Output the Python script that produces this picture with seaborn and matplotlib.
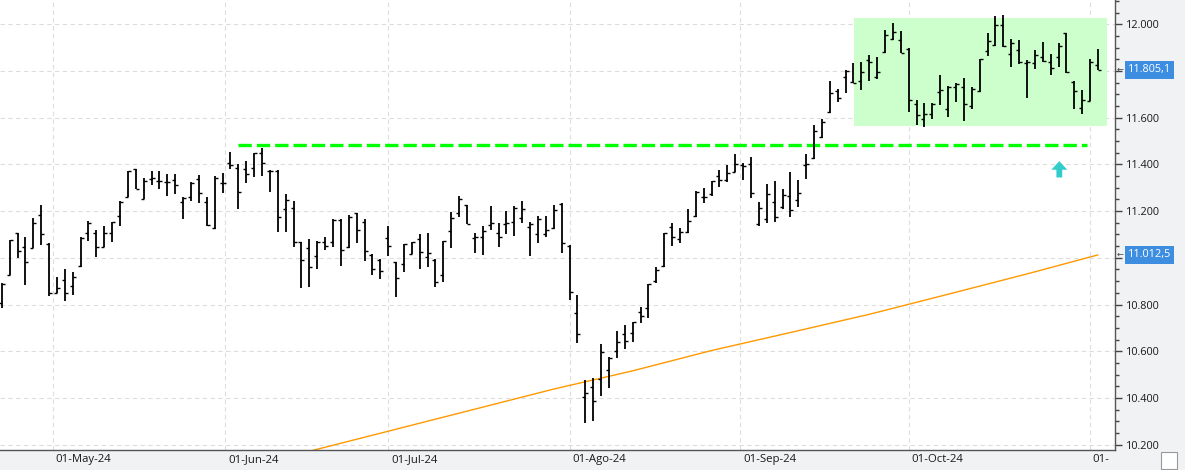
import numpy as np
import pandas as pd
import matplotlib
matplotlib.use('Agg')
import matplotlib.pyplot as plt
import matplotlib.transforms as mtrans
from matplotlib.patches import Rectangle
import seaborn as sns

# trading sessions shown (market closed on 1 May)
dates = pd.bdate_range('2024-04-22', '2024-11-04')
dates = dates[dates != pd.Timestamp('2024-05-01')]

opens = [10805, 10926, 11107, 11045, 11043, 11183, 11060, 10851, 10905, 10879,
         10966, 11105, 11105, 11045, 11105, 11178, 11259, 11379, 11252, 11336,
         11330, 11326, 11333, 11239, 11259, 11336, 11239, 11126, 11319, 11407,
         11383, 11379, 11383, 11448, 11373, 11373, 11208, 11212, 11066, 11041,
         11006, 11066, 11066, 11162, 11048, 11191, 11152, 11012, 10991, 11083,
         10981, 10972, 11016, 11080, 11003, 10991, 10926, 11113, 11191, 11226,
         11083, 11090, 11140, 11105, 11143, 11152, 11169, 11133, 11102, 11102,
         11129, 11229, 11052, 10762, 10405, 10445, 10480, 10519, 10601, 10674,
         10679, 10769, 10784, 10902, 10966, 11133, 11079, 11109, 11180, 11259,
         11272, 11350, 11332, 11369, 11397, 11402, 11145, 11166, 11240, 11219,
         11265, 11248, 11397, 11429, 11516, 11623, 11716, 11776, 11752, 11758,
         11847, 11776, 11880, 11936, 11933, 11894, 11657, 11593, 11615, 11711,
         11636, 11733, 11733, 11650, 11714, 11886, 11911, 11997, 11873, 11890,
         11833, 11833, 11861, 11837, 11861, 11961, 11752, 11640, 11672, 11826]

highs = [10891, 11076, 11107, 11090, 11169, 11226, 11063, 10916, 10951, 10940,
         11088, 11159, 11119, 11136, 11153, 11245, 11373, 11382, 11340, 11372,
         11372, 11358, 11358, 11259, 11325, 11355, 11259, 11350, 11362, 11453,
         11402, 11415, 11450, 11469, 11376, 11376, 11273, 11245, 11069, 11079,
         11072, 11090, 11165, 11165, 11183, 11192, 11166, 11015, 10995, 11137,
         10983, 11058, 11069, 11102, 11105, 10993, 11072, 11195, 11265, 11228,
         11107, 11136, 11223, 11148, 11200, 11222, 11243, 11155, 11179, 11179,
         11226, 11233, 11055, 10841, 10477, 10484, 10631, 10574, 10686, 10712,
         10726, 10791, 10888, 10959, 11107, 11148, 11126, 11209, 11286, 11298,
         11329, 11375, 11397, 11445, 11405, 11430, 11238, 11316, 11330, 11293,
         11369, 11333, 11445, 11569, 11593, 11757, 11723, 11804, 11833, 11840,
         11869, 11859, 11976, 12004, 11973, 11897, 11676, 11664, 11662, 11783,
         11736, 11750, 11769, 11730, 11850, 11961, 12036, 12040, 11936, 11933,
         11845, 11890, 11925, 11872, 11919, 11963, 11757, 11719, 11850, 11894]

lows = [10784, 10926, 11000, 10883, 11041, 11055, 10838, 10848, 10816, 10841,
        10959, 11073, 11002, 11045, 11069, 11136, 11259, 11293, 11252, 11310,
        11293, 11266, 11273, 11167, 11245, 11236, 11136, 11123, 11276, 11379,
        11210, 11322, 11347, 11350, 11283, 11112, 11112, 11048, 10872, 10876,
        10953, 11033, 11048, 10966, 11043, 11065, 10985, 10926, 10909, 11008,
        10833, 10940, 11016, 10953, 10962, 10874, 10898, 11043, 11176, 11143,
        11022, 11012, 11119, 11048, 11102, 11095, 11150, 11008, 11065, 11088,
        11125, 11022, 10819, 10636, 10294, 10302, 10409, 10441, 10570, 10608,
        10641, 10719, 10741, 10891, 10962, 11052, 11065, 11105, 11176, 11236,
        11266, 11304, 11326, 11366, 11333, 11257, 11137, 11150, 11155, 11208,
        11176, 11219, 11336, 11422, 11512, 11620, 11666, 11707, 11747, 11719,
        11757, 11764, 11878, 11933, 11876, 11626, 11569, 11561, 11593, 11654,
        11604, 11669, 11587, 11636, 11712, 11864, 11908, 11904, 11818, 11830,
        11683, 11807, 11838, 11783, 11818, 11790, 11636, 11615, 11670, 11803]

closes = [10888, 11076, 11029, 10983, 11150, 11102, 10848, 10869, 10851, 10916,
          11083, 11150, 11048, 11105, 11153, 11239, 11373, 11295, 11329, 11343,
          11330, 11326, 11312, 11255, 11322, 11279, 11140, 11340, 11322, 11397,
          11283, 11358, 11448, 11405, 11370, 11173, 11248, 11066, 10989, 10959,
          11069, 11052, 11162, 11032, 11176, 11118, 11028, 10951, 10943, 11052,
          10912, 11058, 11069, 11026, 11020, 10895, 11072, 11172, 11252, 11145,
          11088, 11115, 11148, 11088, 11148, 11212, 11208, 11145, 11165, 11119,
          11205, 11062, 10852, 10672, 10420, 10387, 10595, 10570, 10641, 10644,
          10724, 10751, 10887, 10948, 11105, 11088, 11112, 11158, 11283, 11262,
          11329, 11332, 11362, 11402, 11395, 11276, 11212, 11273, 11173, 11269,
          11205, 11276, 11400, 11544, 11583, 11707, 11683, 11800, 11750, 11797,
          11837, 11794, 11954, 11968, 11876, 11676, 11612, 11616, 11657, 11719,
          11733, 11744, 11657, 11723, 11850, 11930, 11997, 11907, 11921, 11840,
          11840, 11869, 11841, 11812, 11907, 11794, 11714, 11676, 11840, 11805.1]

# long moving average (orange), read at a few sessions
ma_dates = ['2024-06-14', '2024-07-02', '2024-07-16', '2024-07-30', '2024-08-13', '2024-08-27',
            '2024-09-10', '2024-09-24', '2024-10-08', '2024-10-22', '2024-11-04']
ma_vals = [10163, 10266, 10352, 10438, 10516, 10603, 10680, 10758, 10844, 10931, 11012.5]

# resistance line and range box
res_level = 11482
res_start, res_end = '2024-06-04', '2024-10-31'
box_start, box_end = '2024-09-20', '2024-11-04'
box_low, box_high = 11566, 12028
arrow_date = '2024-10-28'
arrow_low, arrow_high = 11344, 11414

month_starts = ['2024-05-01', '2024-06-01', '2024-07-01', '2024-08-01', '2024-09-01', '2024-10-01', '2024-11-01']
month_labels = ['01-May-24', '01-Jun-24', '01-Jul-24', '01-Ago-24', '01-Sep-24', '01-Oct-24', '01-']

y_ticks = [10200, 10400, 10600, 10800, 11000, 11200, 11400, 11600, 11800, 12000]
y_labels = ['10.200', '10.400', '10.600', '10.800', '', '11.200', '11.400', '11.600', '', '12.000']

sns.set_theme(style='white')
plt.rcParams['font.family'] = ['Open Sans', 'DejaVu Sans']

df = pd.DataFrame({'date': dates, 'open': opens, 'high': highs, 'low': lows, 'close': closes})
df['pos'] = np.arange(len(df))
pos_of = dict(zip(df['date'], df['pos']))
def P(d):
    return pos_of[pd.Timestamp(d)]

fig = plt.figure(figsize=(11.85, 4.70), dpi=100, facecolor='#F1F2F4')
ax = fig.add_axes([0, 20 / 470, 1115 / 1185, 450 / 470])
ax.set_facecolor('white')

# range box
x0 = P(box_start) + 0.1
x1 = P(box_end) + 1.1
ax.add_patch(Rectangle((x0, box_low), x1 - x0, box_high - box_low,
                       facecolor='#CCFFCC', edgecolor='none', zorder=1))

# moving average
ma_pos = [P(d) for d in ma_dates]
sns.lineplot(x=ma_pos, y=ma_vals, color='#FF9900', lw=1.0, ax=ax, zorder=2)

# resistance
ax.hlines(res_level, P(res_start), P(res_end) + 0.6, colors='#00FF00', lw=2.4,
          linestyles=(0, (4.0, 1.5)), zorder=3)

# OHLC bars
tk = 0.38
ax.vlines(df['pos'], df['low'], df['high'], color='black', lw=1.3, zorder=4)
ax.hlines(df['open'], df['pos'] - tk, df['pos'], color='black', lw=1.0, zorder=4)
ax.hlines(df['close'], df['pos'], df['pos'] + tk, color='black', lw=1.0, zorder=4)

# signal arrow
ax.annotate('', xy=(P(arrow_date) + 0.1, arrow_high), xytext=(P(arrow_date) + 0.1, arrow_low),
            arrowprops=dict(width=4.2, headwidth=11.5, headlength=6.2, shrink=0,
                            facecolor='#33CCCC', edgecolor='none'), zorder=5)

ax.set_xlim(-0.22, 141.16)
ax.set_ylim(10177, 12104)

# month ticks placed by calendar time between sessions
ords = np.array([d.toordinal() for d in df['date']])
m_pos = np.interp([pd.Timestamp(m).toordinal() for m in month_starts], ords, df['pos'])
ax.set_xticks(m_pos)
ax.set_xticklabels(month_labels)
ax.set_yticks(y_ticks)
ax.set_yticklabels(y_labels)
ax.set_yticks(np.arange(10200, 12101, 50), minor=True)
ax.yaxis.tick_right()

ax.grid(True, which='major', color='#DDDDDD', linestyle=(0, (4, 3)), lw=0.8)
ax.set_axisbelow(True)

ax.tick_params(axis='y', which='major', length=5, width=1, color='#444444', pad=3,
               labelsize=7.8, labelcolor='#1a1a1a', direction='out', right=True, left=False)
ax.tick_params(axis='y', which='minor', length=3, width=1, color='#444444', right=True, left=False)
ax.tick_params(axis='x', length=6, width=1, color='#444444', pad=-3, labelsize=8.2,
               labelcolor='#1a1a1a', direction='out')
shift = mtrans.ScaledTranslation(2 / 72, 0, fig.dpi_scale_trans)
for lab in ax.get_xticklabels():
    lab.set_horizontalalignment('left')
    lab.set_transform(lab.get_transform() + shift)

for s in ['left', 'top']:
    ax.spines[s].set_visible(False)
for s in ['right', 'bottom']:
    ax.spines[s].set_color('#555555')
    ax.spines[s].set_linewidth(1)

# last value tags
for val, txt in [(closes[-1], '11.805,1'), (ma_vals[-1], '11.012,5')]:
    ax.annotate(txt, xy=(1.0, val), xycoords=('axes fraction', 'data'), xytext=(9.3, 0),
                textcoords='offset points', ha='left', va='center', fontsize=7.8, color='white',
                bbox=dict(boxstyle='square,pad=0.3', fc='#3D8EE0', ec='none'), annotation_clip=False)
    ax.annotate('←', xy=(1.0, val), xycoords=('axes fraction', 'data'), xytext=(1.0, 0),
                textcoords='offset points', ha='left', va='center', fontsize=6, color='#444444',
                annotation_clip=False)

# small toolbar button bottom right
fig.patches.append(Rectangle((1161 / 1185, 1 / 470), 16 / 1185, 17 / 470, transform=fig.transFigure,
                             facecolor='white', edgecolor='#999999', lw=0.8, figure=fig))

fig.savefig('out.png', dpi=100, facecolor=fig.get_facecolor())
